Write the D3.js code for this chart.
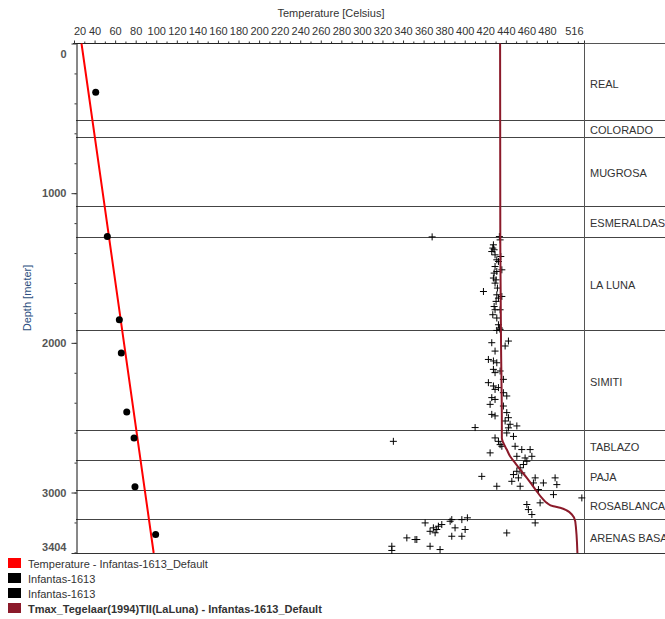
<!DOCTYPE html>
<html>
<head>
<meta charset="utf-8">
<script src="https://cdn.jsdelivr.net/npm/d3@7"></script>
<style>
  body { margin: 0; background: #fff; }
  svg { display: block; font-family: "Liberation Sans", Arial, sans-serif; }
</style>
</head>
<body>
<div id="chart"></div>
<script>
// --- data

const xTicks = [20, 40, 60, 80, 100, 120, 140, 160, 180, 200, 220, 240, 260, 280, 300,
  320, 340, 360, 380, 400, 420, 440, 460, 480, 516];
const yTicks = [0, 1000, 2000, 3000, 3404];

const formationNames = ['REAL', 'COLORADO', 'MUGROSA', 'ESMERALDAS', 'LA LUNA', 'SIMITI',
  'TABLAZO', 'PAJA', 'ROSABLANCA', 'ARENAS BASAL'];
const formationTops = [0, 510, 624, 1085, 1292, 1912, 2580, 2780, 2980, 3174];
const wellBottom = 3404;

// temperature model (red line)
const tempDepth = [0, 1000, 2000, 3000, 3404];
const tempValue = [27.3, 48.0, 68.6, 89.2, 97.5];

// measured temperatures (black dots)
const measDepth = [326, 1290, 1846, 2068, 2462, 2635, 2962, 3281];
const measTemp = [41.1, 52.4, 64.1, 66.0, 71.3, 78.4, 79.3, 99.4];

// measured Tmax (crosses)
const tmaxDepth = [
  1290, 1292, 1312, 1423, 1512, 1690, 1779, 1901,
  1345, 1367, 1378, 1390, 1412, 1445, 1456, 1490, 1523, 1534, 1567, 1579, 1601, 1634,
  1657, 1679, 1701, 1723, 1757, 1779, 1812, 1834, 1879,
  1917, 1910, 1999, 1988, 2021, 2055, 2111, 2121, 2133, 2177, 2199, 2244, 2266, 2288,
  2311, 2333, 2355, 2366, 2378, 2411, 2422, 2478, 2488, 2466, 2500, 2522, 2544, 2555,
  2566, 2188, 2299,
  2568, 2602, 2625, 2635, 2658, 2680, 2691, 2691, 2713, 2713, 2735, 2758, 2769, 2758,
  2791, 2813, 2835, 2858, 2869, 2880, 2892, 2902, 2925, 2902, 2902, 2936, 2936, 2947,
  2958, 2958, 2980, 3014, 3036, 3069, 3080, 3114, 3147, 3203, 2658,
  3203, 3236, 3225, 3214, 3259, 3269, 3192, 3181, 3236, 3181, 3169, 3247, 3292, 3292,
  3303, 3314, 3314, 3359, 3381, 3359, 3387, 3270, 3247
];
const tmaxValue = [
  433.7, 368.3, 434.4, 435.1, 436.1, 436.1, 434.4, 433.7,
  427.9, 427.3, 428.6, 426.3, 429.5, 431.2, 432.8, 429.5, 431.2, 428.6, 427.9, 430.5, 429.5, 431.8,
  418.2, 431.2, 432.8, 430.5, 428.6, 429.5, 427.3, 431.2, 432.8,
  431.2, 434.4, 426.3, 442.5, 439.3, 429.5, 423.0, 427.9, 431.2, 427.9, 429.5, 437.6, 423.0, 427.9,
  429.5, 437.6, 440.9, 426.3, 429.5, 424.7, 437.6, 426.3, 429.5, 440.9, 442.5, 439.3, 444.1, 450.7,
  410.1, 434.4, 432.8,
  442.5, 440.9, 447.4, 429.5, 432.8, 434.4, 436.1, 449.0, 455.5, 463.6, 424.7, 450.7, 458.7, 465.3,
  460.4, 457.1, 453.9, 450.7, 455.5, 447.4, 416.6, 452.2, 445.8, 468.5, 487.9, 476.5, 466.8, 489.6,
  453.9, 431.2, 471.7, 486.3, 513.9, 473.3, 460.4, 461.9, 465.3, 468.5, 330.6,
  361.5, 369.5, 374.4, 377.7, 366.3, 371.2, 385.8, 387.4, 390.6, 397.2, 402.6, 400.4, 387.4, 397.2,
  343.7, 351.7, 353.4, 366.3, 376.0, 329.1, 329.1, 440.9, 372.8
];

// Tmax model (dark red line)
const modelDepth = [0, 1300, 2000, 2546, 2635, 2669, 2713, 2758, 2802, 2847, 2902, 2947, 2992,
  3036, 3069, 3092, 3102, 3120, 3147, 3192, 3404];
const modelTmax = [434.4, 434.6, 435.3, 436.1, 436.1, 437.6, 440.9, 444.1, 449.0, 453.9, 460.4,
  465.3, 470.1, 475.0, 479.8, 486.3, 492.8, 499.3, 504.2, 507.5, 509.6];

const legendLabels = ['Temperature - Infantas-1613_Default', 'Infantas-1613', 'Infantas-1613',
  'Tmax_Tegelaar(1994)TII(LaLuna) - Infantas-1613_Default'];
const legendColors = ['#ff0000', '#000000', '#000000', '#8b1a2a'];

// --- chart

const W = 665, H = 619;
const plotLeft = 76, plotRight = 584, colRight = 665;
const svg = d3.select('#chart').append('svg')
  .attr('width', W)
  .attr('height', H);

const x = d3.scaleLinear().domain([20, 516]).range([74, plotRight]);
const y = d3.scaleLinear().domain([0, wellBottom]).range([43.5, 553]);

// formation boundaries
const fmData = formationNames.map((n, i) => ({
  name: n,
  top: formationTops[i],
  bottom: i < formationNames.length - 1 ? formationTops[i + 1] : wellBottom,
}));

svg.append('g')
  .selectAll('line')
  .data(fmData.slice(1))
  .enter()
  .append('line')
  .attr('x1', plotLeft)
  .attr('x2', colRight)
  .attr('y1', d => Math.round(y(d.top)) + 0.5)
  .attr('y2', d => Math.round(y(d.top)) + 0.5)
  .attr('stroke', '#444')
  .attr('stroke-width', 1);

// formation names (the last one runs off the right edge, as in the source)
const fmClip = svg.append('clipPath').attr('id', 'fmclip')
  .append('rect')
  .attr('x', plotRight).attr('y', 0)
  .attr('width', colRight - plotRight).attr('height', H);

svg.append('g')
  .attr('clip-path', 'url(#fmclip)')
  .selectAll('text')
  .data(fmData)
  .enter()
  .append('text')
  .attr('x', plotRight + 6)
  .attr('y', d => (y(d.top) + y(d.bottom)) / 2 + 6)
  .attr('font-size', 11)
  .attr('fill', '#333')
  .text(d => d.name);

// formation column border + bottom line
svg.append('line')
  .attr('x1', plotRight + 0.5).attr('x2', plotRight + 0.5)
  .attr('y1', 43).attr('y2', 553)
  .attr('stroke', '#555');
svg.append('line')
  .attr('x1', plotRight).attr('x2', colRight)
  .attr('y1', 43.5).attr('y2', 43.5)
  .attr('stroke', '#555');
svg.append('line')
  .attr('x1', plotLeft).attr('x2', colRight)
  .attr('y1', 553.5).attr('y2', 553.5)
  .attr('stroke', '#333');

// x axis (top)
const xMinor = svg.append('g')
  .attr('transform', 'translate(0,43.5)')
  .call(d3.axisTop(x).tickValues(d3.range(30, 516, 20)).tickSize(2).tickFormat(''));
xMinor.select('.domain').remove();
xMinor.selectAll('line').attr('stroke', '#333');

const xAxis = svg.append('g')
  .attr('transform', 'translate(0,43.5)')
  .call(d3.axisTop(x).tickValues(xTicks).tickSize(3).tickSizeOuter(0).tickPadding(6));
xAxis.select('.domain').attr('stroke', '#222').attr('d', `M73,0H${plotRight}`);
xAxis.selectAll('line').attr('stroke', '#333');
xAxis.selectAll('text')
  .attr('font-size', 11)
  .attr('font-family', '"Liberation Sans", Arial, sans-serif')
  .attr('fill', '#333')
  .attr('text-anchor', d => d === 20 ? 'start' : (d === 516 ? 'end' : 'middle'))
  .attr('dx', d => d === 20 ? -0.5 : (d === 516 ? -1 : 0));

svg.append('text')
  .attr('x', 331)
  .attr('y', 17)
  .attr('text-anchor', 'middle')
  .attr('font-size', 11)
  .attr('fill', '#333')
  .text('Temperature [Celsius]');

// y axis (left)
const yMinor = svg.append('g')
  .attr('transform', `translate(${plotLeft + 0.5},0)`)
  .call(d3.axisLeft(y).tickValues(d3.range(200, 3404, 200)).tickSize(2).tickFormat(''));
yMinor.select('.domain').remove();
yMinor.selectAll('line').attr('stroke', '#333');

const yAxis = svg.append('g')
  .attr('transform', `translate(${plotLeft + 0.5},0)`)
  .call(d3.axisLeft(y).tickValues(yTicks).tickSize(5).tickSizeOuter(0).tickPadding(5)
    .tickFormat(d3.format('d')));
yAxis.select('.domain').attr('stroke', '#111');
yAxis.selectAll('line').attr('stroke', '#333');
yAxis.selectAll('text')
  .attr('font-size', 11)
  .attr('font-weight', 'bold')
  .attr('font-family', '"Liberation Sans", Arial, sans-serif')
  .attr('fill', '#555')
  .attr('dy', d => d === 0 ? '1.3em' : (d === wellBottom ? '-0.2em' : '0.32em'));

svg.append('text')
  .attr('transform', 'translate(31,298) rotate(-90)')
  .attr('text-anchor', 'middle')
  .attr('font-size', 11)
  .attr('fill', '#2d4f80')
  .text('Depth [meter]');

// measured Tmax crosses
svg.append('g')
  .selectAll('path')
  .data(tmaxDepth.map((d, i) => [tmaxValue[i], d]))
  .enter()
  .append('path')
  .attr('d', d => `M${x(d[0]) - 3.5},${y(d[1])}h7M${x(d[0])},${y(d[1]) - 3.5}v7`)
  .attr('stroke', '#000')
  .attr('stroke-width', 1)
  .attr('fill', 'none');

// Tmax model line
const modelLine = d3.line()
  .x(d => x(d[0]))
  .y(d => y(d[1]))
  .curve(d3.curveMonotoneY);
svg.append('path')
  .datum(modelDepth.map((d, i) => [modelTmax[i], d]))
  .attr('fill', 'none')
  .attr('stroke', '#8b1a2a')
  .attr('stroke-width', 2)
  .attr('d', modelLine);

// temperature line
svg.append('path')
  .datum(tempDepth.map((d, i) => [tempValue[i], d]))
  .attr('fill', 'none')
  .attr('stroke', '#ff0000')
  .attr('stroke-width', 2)
  .attr('d', d3.line().x(d => x(d[0])).y(d => y(d[1])));

// measured temperature dots
svg.append('g')
  .selectAll('circle')
  .data(measDepth.map((d, i) => [measTemp[i], d]))
  .enter()
  .append('circle')
  .attr('cx', d => x(d[0]))
  .attr('cy', d => y(d[1]))
  .attr('r', 3.5)
  .attr('fill', '#000');

// legend
const legend = svg.append('g')
  .selectAll('g')
  .data(legendLabels)
  .enter()
  .append('g')
  .attr('transform', (d, i) => `translate(8, ${558 + i * 15})`);
legend.append('rect')
  .attr('width', 13)
  .attr('height', 10)
  .attr('fill', (d, i) => legendColors[i]);
legend.append('text')
  .attr('x', 20)
  .attr('y', 10)
  .attr('font-size', 11)
  .attr('fill', '#333')
  .attr('font-weight', (d, i) => i === 3 ? 'bold' : 'normal')
  .text(d => d);
</script>
</body>
</html>
